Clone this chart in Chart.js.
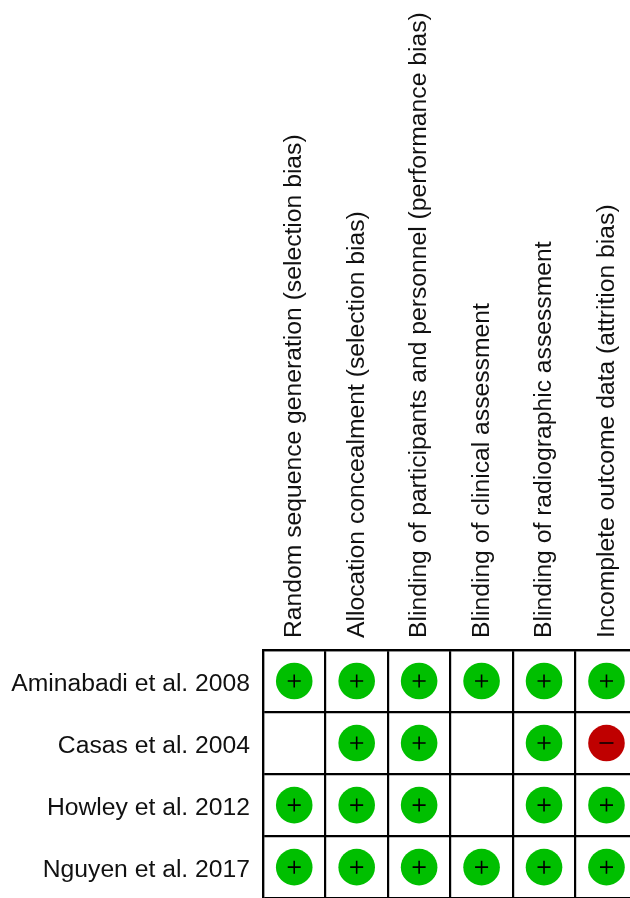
<!DOCTYPE html>
<html>
<head>
<meta charset="utf-8">
<title>Risk of bias summary</title>
<script src="https://cdn.jsdelivr.net/npm/chart.js@4"></script>
<style>
    html, body { margin: 0; padding: 0; background: #fff; overflow: hidden; }
    #chartWrap { width: 630px; height: 898px; overflow: hidden; }
    canvas { display: block; }
</style>
</head>
<body>
<!-- canvas is bigger than the window: the last column and row run off the picture -->
<div id="chartWrap"><canvas id="riskChart" width="656" height="926"></canvas></div>
<script>
const domains = [
    'Random sequence generation (selection bias)',
    'Allocation concealment (selection bias)',
    'Blinding of participants and personnel (performance bias)',
    'Blinding of clinical assessment',
    'Blinding of radiographic assessment',
    'Incomplete outcome data (attrition bias)'
];
const studies = [
    'Aminabadi et al. 2008',
    'Casas et al. 2004',
    'Howley et al. 2012',
    'Nguyen et al. 2017'
];
// one list per study: '+' low risk, '-' high risk, '' not judged
const aminabadi = ['+', '+', '+', '+', '+', '+'];
const casas = ['', '+', '+', '', '+', '-'];
const howley = ['+', '+', '+', '', '+', '+'];
const nguyen = ['+', '+', '+', '+', '+', '+'];
const judgements = [aminabadi, casas, howley, nguyen];

const GREEN = '#00bf00';
const RED = '#bf0000';
const FONT = { family: '"Liberation Sans", Arial, sans-serif', size: 24.7 };

// Turn the judgement lists into points for one symbol
function pointsFor(symbol) {
    const points = [];
    judgements.forEach((row, r) => {
        row.forEach((value, c) => {
            if (value === symbol) {
                points.push({ x: domains[c], y: studies[r] });
            }
        });
    });
    return points;
}

const gridOptions = { color: '#000', lineWidth: 2.2, offset: true, drawTicks: false };

new Chart(document.getElementById('riskChart'), {
    type: 'scatter',
    data: {
        datasets: [
            // symbols come first so they are painted on top of the discs
            {
                data: pointsFor('+'),
                pointStyle: 'cross',
                pointRadius: 6.5,
                pointBorderColor: '#000',
                pointBorderWidth: 1.6
            },
            {
                data: pointsFor('-'),
                pointStyle: 'line',
                pointRadius: 7,
                pointBorderColor: '#000',
                pointBorderWidth: 1.6
            },
            {
                data: pointsFor('+'),
                pointRadius: 18.3,
                pointBackgroundColor: GREEN,
                pointBorderWidth: 0
            },
            {
                data: pointsFor('-'),
                pointRadius: 18.3,
                pointBackgroundColor: RED,
                pointBorderWidth: 0
            }
        ]
    },
    options: {
        responsive: false,
        animation: false,
        events: [],
        layout: { padding: { right: 7 } },
        plugins: { legend: { display: false }, tooltip: { enabled: false } },
        scales: {
            x: {
                type: 'category',
                position: 'top',
                labels: domains,
                offset: true,
                afterFit: scale => { scale.height = 650; },
                grid: gridOptions,
                border: { color: '#000', width: 2.2 },
                // rotated labels sit a line height left of the tick, labelOffset brings them back
                ticks: { color: '#111', font: FONT, padding: 12, labelOffset: 30, minRotation: 90, maxRotation: 90, autoSkip: false }
            },
            y: {
                type: 'category',
                labels: studies,
                offset: true,
                afterFit: scale => { scale.width = 263; },
                grid: gridOptions,
                border: { color: '#000', width: 2.2 },
                ticks: { color: '#111', font: FONT, padding: 13, labelOffset: 3, autoSkip: false }
            }
        }
    }
});
</script>
</body>
</html>
